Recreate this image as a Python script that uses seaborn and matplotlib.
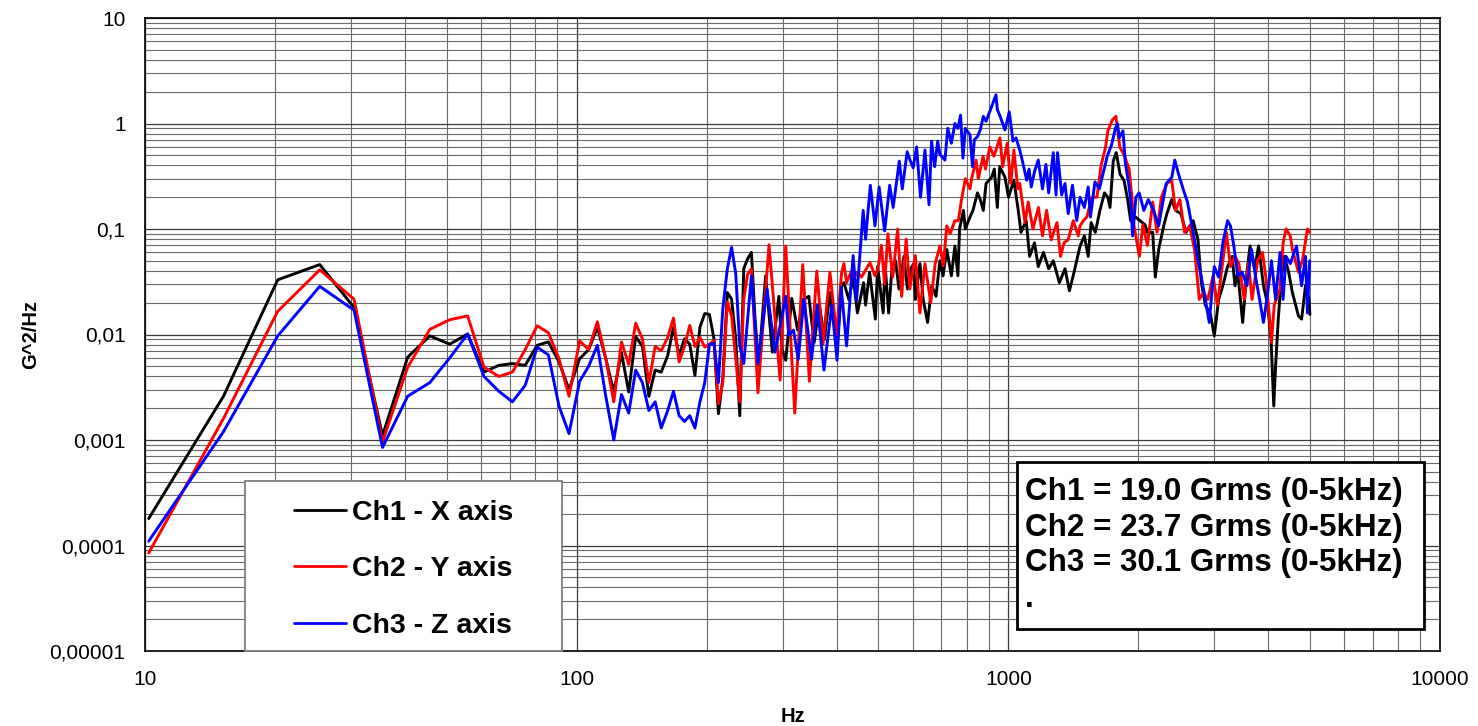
import numpy as np
import pandas as pd
import matplotlib
matplotlib.use("Agg")
import matplotlib.pyplot as plt
import seaborn as sns
from matplotlib.patches import Rectangle
from matplotlib.ticker import FixedLocator, FixedFormatter, LogLocator, NullFormatter

# ---------------- data ----------------
series_names = ["Ch1 - X axis", "Ch2 - Y axis", "Ch3 - Z axis"]
series_colors = ["#000000", "#ff0000", "#0000ff"]

freq_ch1 = [10.2, 15.2, 20.3, 25.4, 30.5, 35.5, 40.6, 45.7, 50.8, 55.9, 61, 66, 71, 76, 81, 86, 91, 96,
            101.6, 106.6, 111.7, 116.8, 121.9, 127, 132, 137, 142, 147, 152, 157, 162.5, 167.6, 172.7,
            177.7, 182.8, 187.9, 193, 198, 203, 208, 213, 218, 223.4, 228.5, 233.6, 238.7, 243.8, 248.8,
            254, 259, 264, 274, 284, 294, 299, 305, 315, 325, 335, 345, 355, 365, 375, 386, 401, 411, 416,
            427, 437, 447, 462, 467, 477, 492, 498, 513, 518, 528, 538, 548, 558, 573, 584, 594, 604, 609,
            624, 635, 650, 665, 680, 694, 706, 720, 738, 752, 764, 771, 787, 795, 815, 828, 848, 861, 875,
            888, 915, 928, 943, 955, 982, 1001, 1030, 1052, 1070, 1100, 1120, 1150, 1173, 1206, 1240,
            1271, 1313, 1353, 1385, 1420, 1466, 1500, 1531, 1555, 1590, 1630, 1670, 1700, 1720, 1750,
            1778, 1815, 1853, 1890, 1920, 1940, 1970, 2017, 2072, 2100, 2160, 2190, 2230, 2290, 2330,
            2390, 2440, 2510, 2580, 2680, 2750, 2800, 2860, 2940, 3000, 3070, 3140, 3220, 3300, 3350,
            3400, 3490, 3570, 3630, 3720, 3800, 3900, 3990, 4060, 4120, 4160, 4220, 4290, 4360, 4460,
            4550, 4700, 4780, 4880, 4970, 4995]
psd_ch1 = [0.00018, 0.0026, 0.033, 0.046, 0.018, 0.0011, 0.0061, 0.0097, 0.0081, 0.0101, 0.0044, 0.0051,
           0.0053, 0.0051, 0.0079, 0.0085, 0.0055, 0.0030, 0.0059, 0.0072, 0.0117, 0.0059, 0.00285, 0.0067,
           0.00285, 0.0096, 0.0077, 0.0026, 0.0046, 0.0044, 0.0063, 0.0117, 0.0063, 0.0091, 0.0081, 0.0041,
           0.0117, 0.0158, 0.0155, 0.0091, 0.00178, 0.0038, 0.025, 0.0216, 0.0091, 0.0017, 0.042, 0.052,
           0.06, 0.014, 0.0051, 0.036, 0.0068, 0.023, 0.0072, 0.0057, 0.022, 0.011, 0.0215, 0.023, 0.0084,
           0.019, 0.009, 0.025, 0.0078, 0.029, 0.031, 0.0215, 0.035, 0.016, 0.031, 0.019, 0.039, 0.014,
           0.044, 0.016, 0.047, 0.016, 0.044, 0.05, 0.027, 0.055, 0.027, 0.042, 0.047, 0.0215, 0.047,
           0.0215, 0.013, 0.029, 0.023, 0.05, 0.036, 0.064, 0.036, 0.069, 0.036, 0.1, 0.15, 0.1, 0.13,
           0.15, 0.22, 0.19, 0.15, 0.27, 0.31, 0.37, 0.16, 0.39, 0.31, 0.2, 0.29, 0.16, 0.093, 0.12, 0.055,
           0.074, 0.044, 0.06, 0.042, 0.05, 0.031, 0.042, 0.026, 0.039, 0.069, 0.086, 0.055, 0.115, 0.093,
           0.15, 0.22, 0.2, 0.16, 0.44, 0.53, 0.33, 0.29, 0.19, 0.12, 0.12, 0.13, 0.12, 0.11, 0.093, 0.093,
           0.035, 0.064, 0.107, 0.14, 0.19, 0.15, 0.14, 0.093, 0.12, 0.079, 0.031, 0.019, 0.0155, 0.0097,
           0.0215, 0.029, 0.044, 0.055, 0.029, 0.039, 0.013, 0.039, 0.069, 0.042, 0.069, 0.029, 0.019,
           0.009, 0.0021, 0.005, 0.014, 0.035, 0.055, 0.039, 0.025, 0.015, 0.014, 0.029, 0.0215, 0.0155]

freq_ch2 = [10.2, 15.2, 20.3, 25.4, 30.5, 35.5, 40.6, 45.7, 50.8, 55.9, 61, 66, 71, 76, 81, 86, 91, 96,
            101.6, 106.6, 111.7, 116.8, 121.9, 127, 132, 137, 142, 147, 152, 157, 162.5, 167.6, 172.7,
            177.7, 182.8, 187.9, 193, 198, 203, 208, 213, 218, 223.4, 228.5, 233.6, 238.7, 243.8, 248.8,
            254, 263, 279, 296, 305, 320, 334, 346, 360, 372, 386, 400, 411, 416, 422, 433, 440, 447, 457,
            478, 491, 499, 508, 517, 526, 540, 554, 566, 580, 591, 609, 624, 641, 661, 677, 694, 707, 720,
            733, 752, 766, 779, 795, 815, 822, 842, 852, 874, 885, 906, 926, 956, 970, 994, 1013, 1030,
            1052, 1063, 1093, 1112, 1140, 1174, 1200, 1226, 1257, 1296, 1321, 1346, 1376, 1414, 1452, 1466,
            1493, 1520, 1563, 1604, 1640, 1680, 1700, 1742, 1775, 1812, 1855, 1905, 1935, 1955, 2012, 2050,
            2100, 2160, 2210, 2262, 2330, 2390, 2440, 2497, 2560, 2630, 2700, 2770, 2830, 2900, 2980, 3050,
            3140, 3200, 3270, 3350, 3420, 3520, 3600, 3670, 3780, 3880, 3950, 4050, 4070, 4130, 4260, 4330,
            4400, 4500, 4550, 4700, 4800, 4930, 4990]
psd_ch2 = [0.000085, 0.0016, 0.0166, 0.041, 0.0216, 0.00096, 0.0049, 0.0112, 0.0138, 0.015, 0.0049, 0.0040,
           0.0044, 0.0072, 0.0121, 0.0104, 0.0059, 0.0026, 0.0087, 0.0072, 0.0132, 0.0059, 0.0023, 0.0085,
           0.0052, 0.0128, 0.0091, 0.0035, 0.0077, 0.0070, 0.0094, 0.0143, 0.0055, 0.0077, 0.0122, 0.0077,
           0.0094, 0.0076, 0.0081, 0.0088, 0.0022, 0.0035, 0.0204, 0.015, 0.0059, 0.0023, 0.0216, 0.037,
           0.042, 0.0028, 0.071, 0.0037, 0.069, 0.0018, 0.046, 0.0036, 0.040, 0.0080, 0.039, 0.010, 0.039,
           0.047, 0.031, 0.04, 0.035, 0.039, 0.035, 0.048, 0.036, 0.042, 0.07, 0.03, 0.09, 0.035, 0.1,
           0.023, 0.08, 0.027, 0.056, 0.016, 0.047, 0.02, 0.047, 0.069, 0.045, 0.107, 0.09, 0.12, 0.12,
           0.19, 0.3, 0.24, 0.3, 0.45, 0.3, 0.49, 0.37, 0.6, 0.49, 0.73, 0.39, 0.65, 0.27, 0.56, 0.24,
           0.27, 0.115, 0.18, 0.1, 0.16, 0.086, 0.15, 0.079, 0.115, 0.055, 0.074, 0.079, 0.12, 0.086, 0.107,
           0.12, 0.13, 0.2, 0.2, 0.4, 0.6, 0.85, 1.08, 1.17, 0.6, 0.5, 0.37, 0.19, 0.107, 0.055, 0.11,
           0.07, 0.18, 0.093, 0.2, 0.27, 0.29, 0.15, 0.19, 0.093, 0.107, 0.064, 0.0215, 0.025, 0.0215,
           0.036, 0.019, 0.05, 0.093, 0.044, 0.055, 0.047, 0.0215, 0.047, 0.0215, 0.05, 0.06, 0.035, 0.011,
           0.0084, 0.019, 0.027, 0.074, 0.1, 0.086, 0.064, 0.039, 0.05, 0.1, 0.093]

freq_ch3 = [10.2, 15.2, 20.3, 25.4, 30.5, 35.5, 40.6, 45.7, 50.8, 55.9, 61, 66, 71, 76, 81, 86, 91, 96,
            101.6, 106.6, 111.7, 116.8, 121.9, 127, 132, 137, 142, 147, 152, 157, 162.5, 167.6, 172.7,
            177.7, 182.8, 187.9, 193, 198, 203, 208, 213, 218, 223.4, 228.5, 233.6, 238.7, 243.8, 254, 263,
            276, 288, 305, 310, 318, 326, 336, 350, 361, 374, 390, 401, 410, 422, 437, 445, 461, 467, 479,
            491, 502, 517, 531, 541, 559, 568, 583, 592, 602, 613, 626, 641, 655, 664, 675, 686, 694, 713,
            724, 738, 752, 764, 775, 785, 795, 815, 826, 834, 848, 861, 875, 888, 915, 936, 943, 955, 982,
            1005, 1025, 1042, 1064, 1081, 1103, 1117, 1130, 1150, 1173, 1200, 1222, 1240, 1271, 1290, 1300,
            1329, 1353, 1376, 1408, 1440, 1466, 1500, 1531, 1550, 1587, 1625, 1659, 1695, 1735, 1770, 1790,
            1806, 1843, 1867, 1900, 1920, 1940, 1975, 2010, 2060, 2110, 2170, 2230, 2262, 2322, 2392, 2430,
            2475, 2540, 2600, 2680, 2750, 2800, 2860, 2920, 3000, 3070, 3140, 3220, 3270, 3330, 3400, 3480,
            3570, 3660, 3740, 3820, 3900, 3990, 4070, 4160, 4260, 4330, 4400, 4500, 4650, 4780, 4880, 4930,
            4990]
psd_ch3 = [0.00011, 0.0012, 0.0097, 0.0286, 0.017, 0.00085, 0.0026, 0.0035, 0.006, 0.0101, 0.0040, 0.0029,
           0.0023, 0.0033, 0.0076, 0.0064, 0.0021, 0.00115, 0.0036, 0.0050, 0.0079, 0.0026, 0.0010, 0.0027,
           0.0018, 0.0046, 0.0035, 0.0019, 0.0023, 0.0013, 0.0019, 0.0029, 0.0017, 0.0015, 0.0017, 0.0013,
           0.0023, 0.0035, 0.0080, 0.0083, 0.0035, 0.0174, 0.042, 0.067, 0.038, 0.0078, 0.0053, 0.036,
           0.0053, 0.027, 0.0068, 0.023, 0.0098, 0.011, 0.0058, 0.0215, 0.0058, 0.019, 0.0046, 0.019,
           0.0057, 0.028, 0.0078, 0.056, 0.021, 0.15, 0.08, 0.26, 0.107, 0.25, 0.096, 0.26, 0.16, 0.44,
           0.24, 0.54, 0.45, 0.38, 0.6, 0.2, 0.56, 0.17, 0.68, 0.39, 0.68, 0.51, 0.45, 0.9, 0.65, 1.0, 0.9,
           1.2, 0.47, 0.9, 0.78, 0.39, 0.7, 0.75, 0.87, 1.17, 1.05, 1.45, 1.87, 1.35, 1.2, 0.87, 1.29,
           0.68, 0.73, 0.55, 0.42, 0.29, 0.37, 0.25, 0.35, 0.45, 0.24, 0.41, 0.22, 0.53, 0.21, 0.53, 0.21,
           0.27, 0.14, 0.26, 0.12, 0.2, 0.16, 0.25, 0.13, 0.28, 0.24, 0.34, 0.49, 0.63, 0.9, 1.0, 0.73,
           0.85, 0.42, 0.27, 0.19, 0.086, 0.2, 0.22, 0.15, 0.19, 0.15, 0.107, 0.15, 0.27, 0.31, 0.45, 0.34,
           0.24, 0.18, 0.093, 0.05, 0.035, 0.0215, 0.013, 0.044, 0.035, 0.074, 0.12, 0.107, 0.069, 0.036,
           0.039, 0.029, 0.064, 0.035, 0.0215, 0.013, 0.025, 0.05, 0.0215, 0.06, 0.0215, 0.055, 0.047,
           0.069, 0.029, 0.055, 0.016, 0.05]

y_tick_values = [1e-5, 1e-4, 1e-3, 1e-2, 1e-1, 1, 10]
y_tick_labels = ["0,00001", "0,0001", "0,001", "0,01", "0,1", "1", "10"]
x_tick_values = [10, 100, 1000, 10000]
x_tick_labels = ["10", "100", "1000", "10000"]
x_label = "Hz"
y_label = "G^2/Hz"
summary_lines = ["Ch1 = 19.0 Grms (0-5kHz)", "Ch2 = 23.7 Grms (0-5kHz)",
                 "Ch3 = 30.1 Grms (0-5kHz)", "."]

# ---------------- build table ----------------
frames = []
for name, f, v in zip(series_names, [freq_ch1, freq_ch2, freq_ch3], [psd_ch1, psd_ch2, psd_ch3]):
    frames.append(pd.DataFrame({"Hz": f, "psd": v, "channel": name}))
df = pd.concat(frames, ignore_index=True)

sns.set_theme(style="white")
plt.rcParams['font.family'] = ['Liberation Sans', 'DejaVu Sans']
plt.rcParams['text.color'] = 'black'
plt.rcParams['axes.labelcolor'] = 'black'

W, H = 1478, 726
fig = plt.figure(figsize=(W / 100, H / 100), dpi=100)
L, R, T, B = 145, 1440, 18, 651
ax = fig.add_axes([L / W, 1 - B / H, (R - L) / W, (B - T) / H])

sns.lineplot(data=df, x="Hz", y="psd", hue="channel", hue_order=series_names,
             palette=series_colors, estimator=None, sort=True, linewidth=2.1,
             legend=False, ax=ax)

ax.set_xscale("log")
ax.set_yscale("log")
ax.set_xlim(10, 10000)
ax.set_ylim(1e-5, 10)

ax.xaxis.set_major_locator(FixedLocator(x_tick_values))
ax.xaxis.set_major_formatter(FixedFormatter(x_tick_labels))
ax.yaxis.set_major_locator(FixedLocator(y_tick_values))
ax.yaxis.set_major_formatter(FixedFormatter(y_tick_labels))
for a in (ax.xaxis, ax.yaxis):
    a.set_minor_locator(LogLocator(base=10, subs=np.arange(2, 10), numticks=100))
    a.set_minor_formatter(NullFormatter())

ax.grid(True, which="major", color="#3a3a3a", linewidth=0.9)
ax.grid(True, which="minor", color="#6a6a6a", linewidth=0.8)
ax.set_axisbelow(True)
ax.tick_params(axis="both", which="major", direction="out", length=4, width=1,
               color="black", labelsize=15, labelcolor="black", pad=10)
ax.tick_params(axis="both", which="minor", length=0)
for s in ax.spines.values():
    s.set_color("black")
    s.set_linewidth(1.2)

ax.set_xlabel(x_label, fontsize=14.5, fontweight="bold", color="black")
ax.set_ylabel(y_label, fontsize=14.5, fontweight="bold", color="black")
ax.xaxis.set_label_coords(0.5, (B - 707) / (B - T))
ax.yaxis.set_label_coords((40 - L) / (R - L), 0.5)


def ax_x(px):
    return (px - L) / (R - L)


def ax_y(py):
    return (B - py) / (B - T)


# legend box
leg_box = Rectangle((ax_x(245), ax_y(B)), ax_x(562) - ax_x(245), ax_y(481) - ax_y(B),
                    transform=ax.transAxes, facecolor="white", edgecolor="#7f7f7f",
                    linewidth=1.3, zorder=5, clip_on=False)
ax.add_patch(leg_box)
handles = ax.get_lines()[:3]
leg = ax.legend(handles, series_names, loc="upper left",
                bbox_to_anchor=(294 / W, 1 - 500 / H), bbox_transform=fig.transFigure,
                frameon=False, borderpad=0, borderaxespad=0, handlelength=1.83,
                handletextpad=0.22, labelspacing=1.07,
                prop={"family": ["Liberation Sans", "DejaVu Sans"], "weight": "bold", "size": 20.5})
leg.set_zorder(6)
for t in leg.get_texts():
    t.set_color("black")
for lh in leg.get_lines():
    lh.set_linewidth(2.0)

# summary box
sum_box = Rectangle((ax_x(1017), ax_y(629)), ax_x(1424) - ax_x(1017), ax_y(462) - ax_y(629),
                    transform=ax.transAxes, facecolor="white", edgecolor="black",
                    linewidth=2.0, zorder=5)
ax.add_patch(sum_box)
ax.text(ax_x(1025), ax_y(477), "\n".join(summary_lines), transform=ax.transAxes,
        ha="left", va="top", fontsize=22.6, fontweight="bold", linespacing=1.25,
        color="black", zorder=7)

fig.savefig("out.png", dpi=100)
